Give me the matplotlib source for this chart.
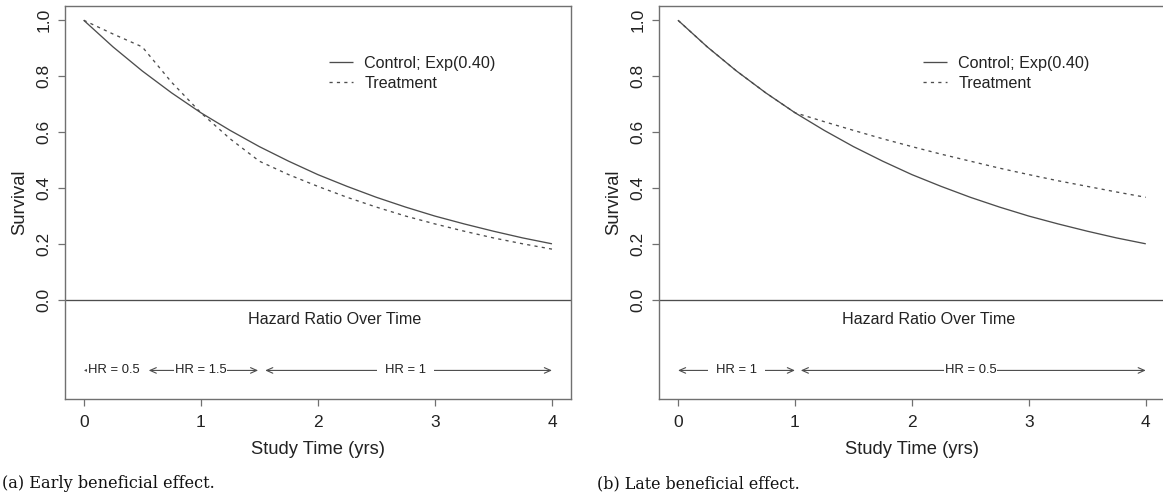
import matplotlib
matplotlib.use("Agg")
import matplotlib.pyplot as plt

# ---------------- data ----------------
times = [0.0, 0.25, 0.5, 0.75, 1.0, 1.25, 1.5, 1.75, 2.0,
         2.25, 2.5, 2.75, 3.0, 3.25, 3.5, 3.75, 4.0]
control = [1.000, 0.905, 0.819, 0.741, 0.670, 0.607, 0.549, 0.497, 0.449,
           0.407, 0.368, 0.333, 0.301, 0.273, 0.247, 0.223, 0.202]
treat_early = [1.000, 0.951, 0.905, 0.779, 0.670, 0.577, 0.497, 0.449, 0.407,
               0.368, 0.333, 0.301, 0.273, 0.247, 0.223, 0.202, 0.183]
treat_late = [1.000, 0.905, 0.819, 0.741, 0.670, 0.638, 0.607, 0.577, 0.549,
              0.522, 0.497, 0.472, 0.449, 0.427, 0.407, 0.387, 0.368]

legend_labels = ["Control; Exp(0.40)", "Treatment"]
x_ticks = [0, 1, 2, 3, 4]
y_ticks = [0.0, 0.2, 0.4, 0.6, 0.8, 1.0]
y_ticklabels = ["0.0", "0.2", "0.4", "0.6", "0.8", "1.0"]

hr_a_labels = ["HR = 0.5", "HR = 1.5", "HR = 1"]
hr_a_starts = [0.0, 0.555, 1.55]
hr_a_ends = [0.5, 1.49, 4.0]
hr_a_centers = [0.26, 1.0, 2.75]

hr_b_labels = ["HR = 1", "HR = 0.5"]
hr_b_starts = [0.0, 1.05]
hr_b_ends = [1.0, 4.0]
hr_b_centers = [0.5, 2.5]

captions = ["(a) Early beneficial effect.", "(b) Late beneficial effect."]

# ---------------- style ----------------
plt.rcParams['font.family'] = ['Liberation Sans', 'DejaVu Sans']
LINE = '#4d4d4d'
SPINE = '#707070'
TXT = '#222222'
# white gap (in font-size units) around each HR label, per panel
HR_PAD_A = [0.12, 0.05, 0.6]
HR_PAD_B = [0.6, 0.05]

W, H = 1163, 492
fig = plt.figure(figsize=(W / 100, H / 100), dpi=100)

def px_rect(l, r, t, b):
    return [l / W, 1 - b / H, (r - l) / W, (b - t) / H]

ax_a = fig.add_axes(px_rect(65, 570.7, 5.7, 399))
ax_b = fig.add_axes(px_rect(659.3, 1164.5, 5.7, 399))


def draw_panel(ax, treat, labels, starts, ends, centers, pads):
    l1, = ax.plot(times, control, color=LINE, lw=0.95, solid_capstyle='butt')
    l2, = ax.plot(times, treat, color=LINE, lw=0.95, dashes=(2.4, 3.2))
    ax.axhline(0, color=LINE, lw=0.95)
    ax.set_xlim(-0.16, 4.16)
    ax.set_ylim(-0.352, 1.052)
    ax.set_xticks(x_ticks)
    ax.set_xticklabels([str(t) for t in x_ticks])
    ax.set_yticks(y_ticks)
    ax.set_yticklabels(y_ticklabels, rotation=90, va='center')
    ax.tick_params(axis='both', direction='out', length=4.8, width=0.9,
                   color=SPINE, labelsize=12.5, labelcolor=TXT)
    ax.tick_params(axis='x', pad=6.5)
    ax.tick_params(axis='y', pad=5.0)
    for s in ax.spines.values():
        s.set_color(SPINE)
        s.set_linewidth(1.0)
    ax.set_xlabel("Study Time (yrs)", fontsize=13.2, color=TXT, labelpad=8.5)
    ax.set_ylabel("Survival", fontsize=13.2, color=TXT, labelpad=6)

    leg = ax.legend([l1, l2], legend_labels, loc='upper left',
                    bbox_to_anchor=(0.5227, 0.872), frameon=False,
                    fontsize=11.6, handlelength=1.45, handletextpad=0.72,
                    labelspacing=0.31, borderpad=0, borderaxespad=0)
    for t in leg.get_texts():
        t.set_color(TXT)

    ax.text(2.14, -0.068, "Hazard Ratio Over Time", ha='center', va='center',
            fontsize=11.6, color=TXT)
    y_hr = -0.25
    for lab, s, e, c, p in zip(labels, starts, ends, centers, pads):
        ax.annotate('', xy=(e, y_hr), xytext=(s, y_hr),
                    arrowprops=dict(arrowstyle='<->,head_length=0.45,head_width=0.2',
                                    color=LINE, lw=0.8, shrinkA=0, shrinkB=0),
                    zorder=3)
        ax.text(c, y_hr, lab, ha='center', va='center', fontsize=9.4,
                color=TXT, zorder=6,
                bbox=dict(boxstyle='square,pad=%g' % p, fc='white', ec='none'))


draw_panel(ax_a, treat_early, hr_a_labels, hr_a_starts, hr_a_ends, hr_a_centers, HR_PAD_A)
draw_panel(ax_b, treat_late, hr_b_labels, hr_b_starts, hr_b_ends, hr_b_centers, HR_PAD_B)

# captions (serif), fitted to the measured pixel width
renderer = fig.canvas.get_renderer()
for cap, x0, target in zip(captions, [2, 597], [212, 203]):
    t = fig.text(x0 / W, 1 - 484 / H, cap, ha='left', va='center',
                 fontsize=12, family='DejaVu Serif', color='#111111')
    w = t.get_window_extent(renderer).width
    t.set_fontsize(12 * target / w)

fig.savefig("out.png", dpi=100)
